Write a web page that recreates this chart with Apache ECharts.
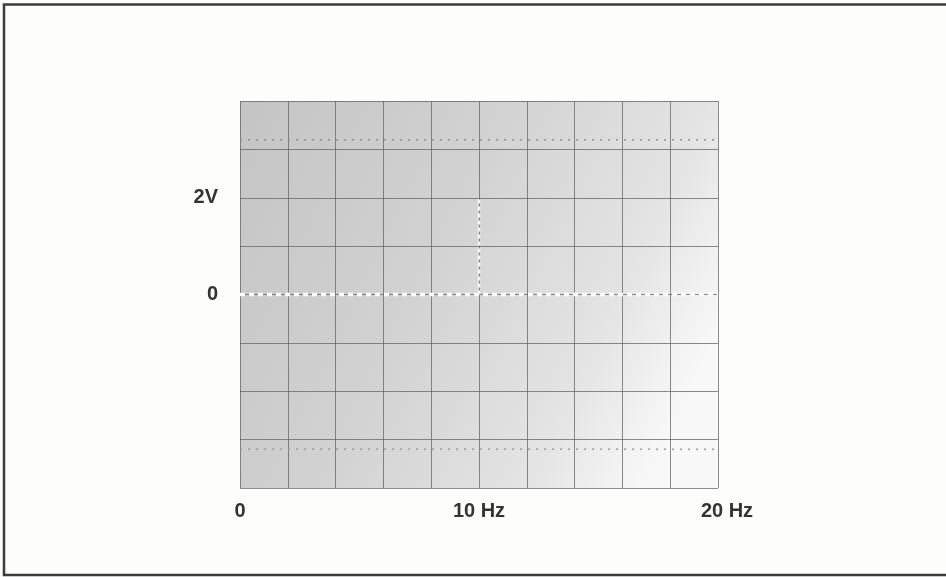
<!DOCTYPE html>
<html>
<head>
<meta charset="utf-8">
<script src="https://cdn.jsdelivr.net/npm/echarts@6/dist/echarts.min.js"></script>
<style>
  html, body { margin: 0; padding: 0; background: #fdfdfb; }
  #chart { width: 946px; height: 577px; }
</style>
</head>
<body>
<div id="chart"></div>
<script>
// ---- Data ----
const xMin = 0, xMax = 20, xStep = 2;          // Hz, 10 divisions
const yMin = -4, yMax = 4, yStep = 1;          // divisions (1 V each)
const xTickValues = [0, 10, 20];
const xTickLabels = ['0', '10 Hz', '20 Hz'];
const yTickValues = [2, 0];
const yTickLabels = ['2V', '0'];
const zeroTraceX = [0, 20];
const zeroTraceY = [0, 0];
const markerX = [10, 10];
const markerY = [0, 2];
const upperDottedY = [3.2, 3.2];
const lowerDottedY = [-3.2, -3.2];
const dottedX = [0, 20];

const pairs = (xs, ys) => xs.map((x, i) => [x, ys[i]]);

const chart = echarts.init(document.getElementById('chart'));
const labelFont = { fontFamily: 'Liberation Sans', fontWeight: 'bold', fontSize: 20, color: '#333' };

chart.setOption({
  animation: false,
  backgroundColor: '#fdfdfb',
  graphic: [
    { type: 'rect', z: -10, silent: true,
      shape: { x: 4, y: 4.5, width: 960, height: 570.5 },
      style: { fill: 'none', stroke: '#3c3c3c', lineWidth: 2.5 } },
    { type: 'rect', z: -5, silent: true,
      shape: { x: 240, y: 101, width: 478, height: 387 },
      style: {
        fill: new echarts.graphic.LinearGradient(0, 0, 1, 0.6, [
          { offset: 0, color: '#c4c4c4' },
          { offset: 0.45, color: '#d2d2d2' },
          { offset: 0.8, color: '#e4e4e4' },
          { offset: 1, color: '#f8f8f8' }
        ])
      } }
  ],
  grid: { left: 240, top: 101, right: 228, bottom: 89, containLabel: false },
  xAxis: {
    type: 'value', min: xMin, max: xMax, interval: xStep,
    axisLine: { show: false }, axisTick: { show: false },
    splitLine: { show: true, lineStyle: { color: 'rgba(100,100,100,0.75)', width: 1 } },
    axisLabel: Object.assign({}, labelFont, {
      margin: 13,
      showMinLabel: true, showMaxLabel: true,
      formatter: function (v) {
        const i = xTickValues.indexOf(v);
        if (i < 0) return '';
        if (i === xTickLabels.length - 1) return '{r|' + xTickLabels[i] + '}';
        return xTickLabels[i];
      },
      rich: { r: Object.assign({}, labelFont, { padding: [0, 0, 0, 18] }) }
    })
  },
  yAxis: {
    type: 'value', min: yMin, max: yMax, interval: yStep,
    axisLine: { show: false }, axisTick: { show: false },
    splitLine: { show: true, lineStyle: { color: 'rgba(100,100,100,0.75)', width: 1 } },
    axisLabel: Object.assign({}, labelFont, {
      margin: 22,
      formatter: function (v) {
        const i = yTickValues.indexOf(v);
        return i < 0 ? '' : yTickLabels[i];
      }
    })
  },
  series: [
    { type: 'line', data: pairs(dottedX, upperDottedY), symbol: 'none', silent: true,
      lineStyle: { color: '#8f8f8f', width: 1.5, type: [2, 6] } },
    { type: 'line', data: pairs(dottedX, lowerDottedY), symbol: 'none', silent: true,
      lineStyle: { color: '#9a9a9a', width: 1.5, type: [2, 6] } },
    { type: 'line', data: pairs(markerX, markerY), symbol: 'none', silent: true,
      lineStyle: { color: 'rgba(255,255,255,0.9)', width: 2.5, type: [4, 3] } },
    { type: 'line', data: pairs(zeroTraceX, zeroTraceY), symbol: 'none', silent: true,
      lineStyle: { color: '#ffffff', width: 3.5, type: [5, 4] } }
  ]
});
</script>
</body>
</html>
